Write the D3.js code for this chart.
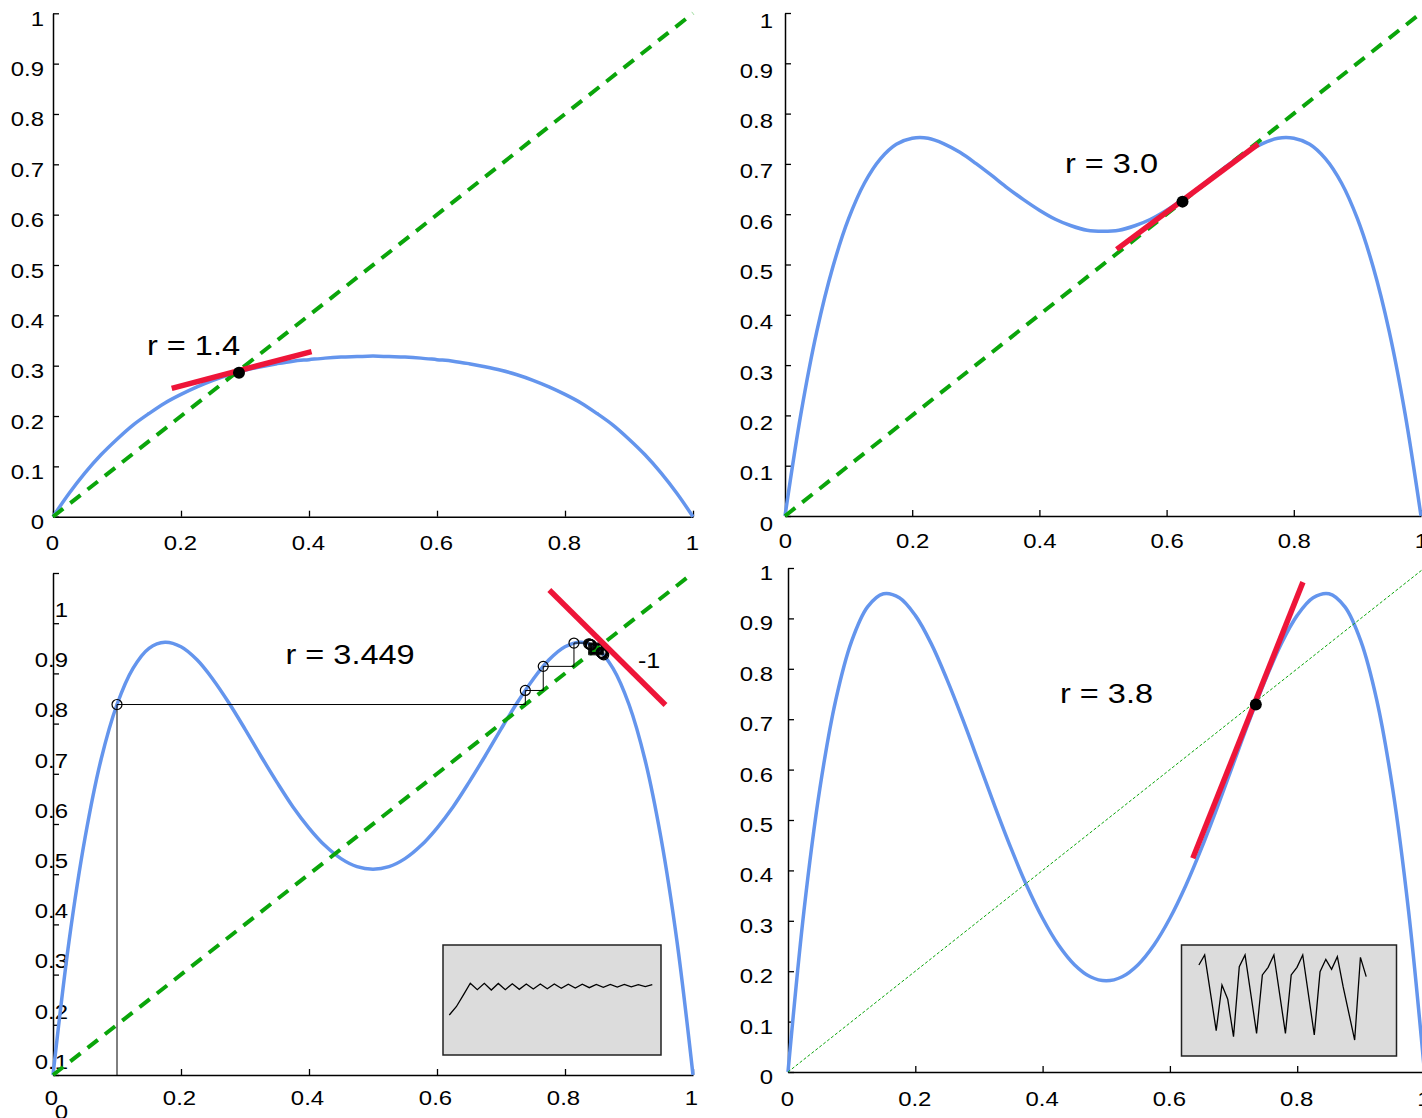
<!DOCTYPE html>
<html><head><meta charset="utf-8">
<script src="https://cdn.jsdelivr.net/npm/d3@7"></script>
<style>html,body{margin:0;padding:0;background:#fff;} svg{display:block;}</style>
</head><body>
<svg id="chart" width="1422" height="1118"></svg>
<script>
// ---------- data ----------
const xGrid = [0,0.025,0.05,0.075,0.1,0.125,0.15,0.175,0.2,0.225,0.25,0.275,0.3,0.325,0.35,0.375,0.4,0.425,0.45,0.475,0.5,0.525,0.55,0.575,0.6,0.625,0.65,0.675,0.7,0.725,0.75,0.775,0.8,0.825,0.85,0.875,0.9,0.925,0.95,0.975,1];
const curveR14 = [0,0.046,0.087,0.123,0.154,0.182,0.205,0.226,0.243,0.258,0.271,0.282,0.291,0.298,0.304,0.309,0.312,0.315,0.317,0.318,0.319,0.318,0.317,0.315,0.312,0.309,0.304,0.298,0.291,0.282,0.271,0.258,0.243,0.226,0.205,0.182,0.154,0.123,0.087,0.046,0];
const curveR30 = [0,0.203,0.367,0.494,0.591,0.662,0.710,0.739,0.751,0.751,0.740,0.723,0.701,0.677,0.652,0.629,0.608,0.590,0.577,0.568,0.566,0.568,0.577,0.590,0.608,0.629,0.652,0.677,0.701,0.723,0.740,0.751,0.751,0.739,0.710,0.662,0.591,0.494,0.367,0.203,0];
const curveR3449 = [0,0.266,0.472,0.628,0.738,0.810,0.850,0.862,0.853,0.827,0.788,0.741,0.689,0.635,0.583,0.534,0.492,0.457,0.431,0.415,0.410,0.415,0.431,0.457,0.492,0.534,0.583,0.635,0.689,0.741,0.788,0.827,0.853,0.862,0.850,0.810,0.738,0.628,0.472,0.266,0];
const curveR38 = [0,0.319,0.562,0.738,0.855,0.923,0.949,0.941,0.906,0.850,0.778,0.698,0.613,0.527,0.445,0.370,0.305,0.252,0.213,0.189,0.181,0.189,0.213,0.252,0.305,0.370,0.445,0.527,0.613,0.698,0.778,0.850,0.906,0.941,0.949,0.923,0.855,0.738,0.562,0.319,0];

const diagonal = [[0,0],[1,1]];
const tangentR14 = [[0.1855,0.255],[0.404,0.328]];
const tangentR30 = [[0.5215,0.530],[0.744,0.7396]];
const tangentR3449 = [[0.7755,0.966],[0.957,0.737]];
const tangentR38 = [[0.636,0.424],[0.809,0.972]];
const dotR14 = [0.2906,0.286];
const dotR30 = [0.625,0.625];
const dotR38 = [0.735,0.729];

const cobwebX = [0.1,0.738,0.766,0.814,0.8605,0.837,0.859,0.8385,0.8585,0.8396,0.8577,0.8405,0.857,0.8412,0.8564,0.8418];

const insetLeftValues = [0.364,0.439,0.545,0.652,0.594,0.652,0.591,0.650,0.594,0.648,0.597,0.646,0.600,0.645,0.603,0.645,0.606,0.644,0.609,0.643,0.612,0.642,0.615,0.641,0.618,0.641,0.620,0.640,0.622,0.640];
const insetRightSteps = [0,1,3,4,5,6,7,8,10,11,12,13,15,16,17,18,20,21,22,23,24,25,27,28,29];
const insetRightValues = [0.820,0.910,0.228,0.640,0.511,0.174,0.805,0.910,0.204,0.730,0.799,0.910,0.204,0.730,0.799,0.910,0.189,0.760,0.871,0.781,0.895,0.625,0.144,0.889,0.715];

const xTicks = [0,0.2,0.4,0.6,0.8,1];
const yTicks = [0,0.1,0.2,0.3,0.4,0.5,0.6,0.7,0.8,0.9,1];
const rLabels = ["r = 1.4","r = 3.0","r = 3.449","r = 3.8"];

// ---------- style ----------
const FONT = "'Liberation Sans', Arial, Helvetica, sans-serif";
const SX = 1.14;
const BLUE = "#6495ed", RED = "#ee1539", GREEN = "#0aa50a";

const svg = d3.select('#chart');

const panels = [
  {xr:[53,693], yr:[516.7,13.3], curve:curveR14, label:rLabels[0], lab:[147,355], yLab:[-9,12], xLab:[-1,33], tangent:tangentR14, dot:dotR14, thinDiag:false},
  {xr:[785,1421], yr:[516,13], curve:curveR30, label:rLabels[1], lab:[1065,173], yLab:[-12,14], xLab:[0,32], tangent:tangentR30, dot:dotR30, thinDiag:false},
  {xr:[53,693], yr:[1075,573], curve:curveR3449, label:rLabels[2], lab:[285.5,664], yLab:[15,43.5], xLab:[-2,30], tangent:tangentR3449, dot:null, thinDiag:false, cobweb:true, inset:'left'},
  {xr:[788,1424.5], yr:[1072,568], curve:curveR38, label:rLabels[3], lab:[1060,703], yLab:[-15,11.5], xLab:[-1,34], tangent:tangentR38, dot:dotR38, thinDiag:true, inset:'right'}
];

const fmt = d => String(d);

function stretch(sel, dx, dy, size){
  sel.attr('x',0).attr('y',0).attr('dy',null)
     .attr('transform',`translate(${dx},${dy}) scale(${SX},1)`);
  if(size) sel.attr('font-size',size);
}

panels.forEach(p => {
  const g = svg.append('g');
  const x = d3.scaleLinear().domain([0,1]).range(p.xr);
  const y = d3.scaleLinear().domain([0,1]).range(p.yr);

  // axes
  g.append('g').attr('transform',`translate(0,${p.yr[0]})`)
    .call(d3.axisBottom(x).tickValues(xTicks).tickFormat(fmt).tickSizeInner(-6).tickSizeOuter(0))
    .call(a => {
      a.attr('font-family',FONT).attr('font-size',21);
      a.select('.domain').attr('stroke','#000').attr('stroke-width',1.5);
      a.selectAll('.tick line').attr('stroke','#000').attr('stroke-width',1.3);
      a.selectAll('.tick text').attr('fill','#000').call(stretch, p.xLab[0], p.xLab[1]);
    });
  g.append('g').attr('transform',`translate(${p.xr[0]},0)`)
    .call(d3.axisLeft(y).tickValues(yTicks).tickFormat(fmt).tickSizeInner(-6).tickSizeOuter(0))
    .call(a => {
      a.attr('font-family',FONT).attr('font-size',21);
      a.select('.domain').attr('stroke','#000').attr('stroke-width',1.5);
      a.selectAll('.tick line').attr('stroke','#000').attr('stroke-width',1.3);
      a.selectAll('.tick text').attr('fill','#000').call(stretch, p.yLab[0], p.yLab[1]);
    });

  const line = d3.line().x(d => x(d[0])).y(d => y(d[1]));

  // curve
  g.append('path')
    .datum(xGrid.map((v,i) => [v, p.curve[i]]))
    .attr('d', line.curve(d3.curveCatmullRom))
    .attr('fill','none').attr('stroke',BLUE).attr('stroke-width',3.5)
    .attr('stroke-linejoin','round');

  // diagonal
  g.append('path').datum(diagonal)
    .attr('d', d3.line().x(d => x(d[0])).y(d => y(d[1])))
    .attr('fill','none').attr('stroke',GREEN)
    .attr('stroke-width', p.thinDiag ? 1 : 4)
    .attr('stroke-dasharray', p.thinDiag ? '3,2' : '13,9');

  // cobweb
  if(p.cobweb){
    const pts = [[cobwebX[0],0]];
    for(let i=0;i<cobwebX.length-1;i++){
      pts.push([cobwebX[i],cobwebX[i+1]]);
      pts.push([cobwebX[i+1],cobwebX[i+1]]);
    }
    g.append('path').datum(pts)
      .attr('d', d3.line().x(d => x(d[0])).y(d => y(d[1])))
      .attr('fill','none').attr('stroke','#000').attr('stroke-width',1);
    g.selectAll('circle.cw').data(cobwebX.slice(0,-1).map((v,i)=>[v,cobwebX[i+1]]))
      .join('circle').attr('class','cw')
      .attr('cx',d=>x(d[0])).attr('cy',d=>y(d[1])).attr('r',5)
      .attr('fill','none').attr('stroke','#000').attr('stroke-width',1.2);
  }

  // tangent
  g.append('path').datum(p.tangent)
    .attr('d', d3.line().x(d => x(d[0])).y(d => y(d[1])))
    .attr('stroke',RED).attr('stroke-width',5.5).attr('fill','none');

  if(p.dot){
    g.append('circle').attr('cx',x(p.dot[0])).attr('cy',y(p.dot[1])).attr('r',6).attr('fill','#000');
  }

  // label
  g.append('text').text(p.label)
    .attr('font-family',FONT).attr('fill','#000')
    .call(stretch, p.lab[0], p.lab[1], 28.5);

  if(p.cobweb){
    g.append('text').text('-1')
      .attr('font-family',FONT).attr('fill','#000')
      .call(stretch, 638, 668, 22);
  }

  // insets
  if(p.inset === 'left'){
    const bx = 443, by = 945, bw = 218, bh = 110;
    g.append('rect').attr('x',bx).attr('y',by).attr('width',bw).attr('height',bh)
      .attr('fill','#dcdcdc').attr('stroke','#222').attr('stroke-width',1.5);
    const ix = d3.scaleLinear().domain([0,insetLeftValues.length-1]).range([bx+6.3, bx+209.3]);
    const iy = d3.scaleLinear().domain([0,1]).range([by+bh, by]);
    g.append('path').datum(insetLeftValues)
      .attr('d', d3.line().x((d,i)=>ix(i)).y(d=>iy(d)))
      .attr('fill','none').attr('stroke','#000').attr('stroke-width',1.3);
  }
  if(p.inset === 'right'){
    const bx = 1181.5, by = 945, bw = 215, bh = 111;
    g.append('rect').attr('x',bx).attr('y',by).attr('width',bw).attr('height',bh)
      .attr('fill','#dcdcdc').attr('stroke','#222').attr('stroke-width',1.5);
    const ix = d3.scaleLinear().domain([0,29]).range([bx+17.4, bx+184.7]);
    const iy = d3.scaleLinear().domain([0,1]).range([by+bh, by]);
    g.append('path').datum(insetRightValues.map((v,i)=>[insetRightSteps[i],v]))
      .attr('d', d3.line().x(d=>ix(d[0])).y(d=>iy(d[1])))
      .attr('fill','none').attr('stroke','#000').attr('stroke-width',1.3);
  }
});
</script>
</body></html>
